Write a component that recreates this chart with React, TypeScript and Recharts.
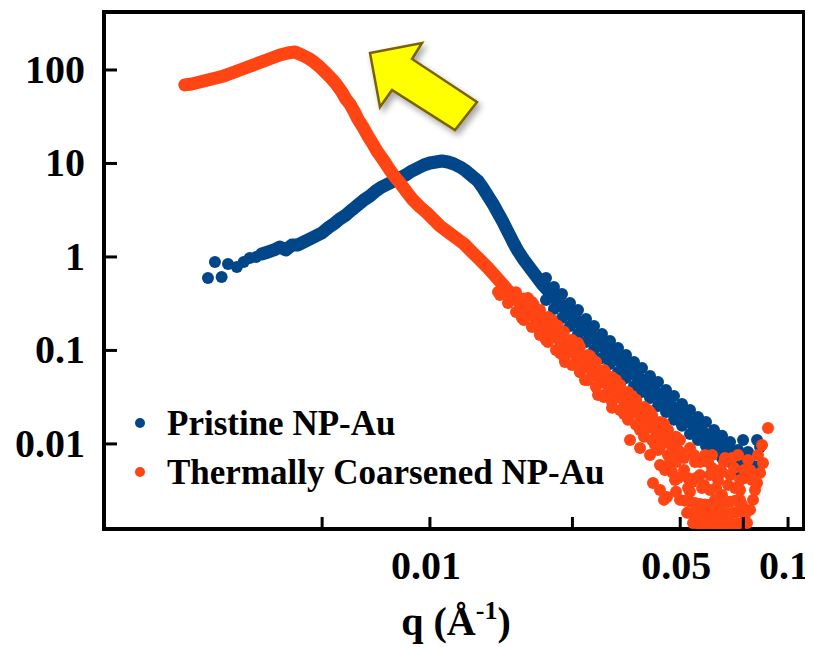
import React from "react";
import { ScatterChart, Scatter, XAxis, YAxis, ReferenceArea } from "recharts";

// q in 1/Å, intensity in a.u.

// Pristine NP-Au: first sparse points at low q
const pristineLowQ = [0.0024, 0.00251, 0.00262, 0.00273, 0.00289, 0.00302, 0.00314, 0.00327];
const pristineLowI = [0.596, 0.884, 0.611, 0.841, 0.782, 0.884, 0.976, 1.0];

// Pristine NP-Au: main curve
const pristineQ = [
  0.00339, 0.00353, 0.00367, 0.00381, 0.00396, 0.00412, 0.00428, 0.00445, 0.00462, 0.0048,
  0.00499, 0.00519, 0.00539, 0.0056, 0.00583, 0.00605, 0.00629, 0.00654, 0.0068, 0.00706,
  0.00734, 0.00763, 0.00793, 0.00824, 0.00857, 0.00891, 0.00926, 0.00962, 0.01, 0.01039,
  0.0108, 0.01123, 0.01167, 0.01213, 0.01261, 0.0131, 0.01362, 0.01406, 0.01452, 0.01476,
  0.015, 0.01524, 0.01549, 0.01574, 0.01599, 0.01625, 0.01652, 0.01679, 0.01706, 0.01733,
  0.01762, 0.0183, 0.01902, 0.01977, 0.02055, 0.02164, 0.02278, 0.02399, 0.02525, 0.02658,
  0.02799, 0.02947, 0.03102, 0.03266, 0.03439, 0.0362, 0.03811, 0.04012, 0.04224, 0.04447,
  0.04682, 0.04928, 0.05189, 0.05463, 0.05751, 0.06055, 0.06375, 0.06711, 0.07066, 0.07439,
  0.07832, 0.08245,
];
const pristineI = [
  1.077, 1.131, 1.188, 1.279, 1.188, 1.344, 1.344, 1.447, 1.557, 1.677,
  1.806, 2.043, 2.254, 2.549, 2.814, 3.182, 3.599, 4.07, 4.491, 5.08,
  5.607, 6.036, 6.5, 6.997, 7.535, 8.315, 8.953, 9.638, 10.12, 10.37,
  10.63, 10.37, 9.879, 9.176, 8.315, 7.352, 6.5, 5.47, 4.491, 4.07,
  3.689, 3.302, 2.956, 2.646, 2.368, 2.094, 1.851, 1.637, 1.447, 1.295,
  1.159, 0.929, 0.763, 0.626, 0.514, 0.412, 0.33, 0.271, 0.2226, 0.183,
  0.15, 0.123, 0.1037, 0.0873, 0.0735, 0.0619, 0.0521, 0.0438, 0.0369, 0.031,
  0.0261, 0.022, 0.0185, 0.016, 0.0134, 0.0116, 0.01, 0.00863, 0.00744, 0.00642,
  0.00582, 0.00554,
];

// Pristine NP-Au: scatter of the noisy high-q band
const pristineNoiseQ = [
  0.02338, 0.02461, 0.02591, 0.02728, 0.02872, 0.03023, 0.03183, 0.03351, 0.03528, 0.03714,
  0.0391, 0.04117, 0.04334, 0.04563, 0.04803, 0.05057, 0.05324, 0.05605, 0.05901, 0.06213,
  0.06541, 0.06887, 0.0725, 0.07488, 0.08192, 0.08353, 0.07732, 0.08035, 0.07344,
  0.02109, 0.02109, 0.0222, 0.0222, 0.02338, 0.02461, 0.02591, 0.02728, 0.02872, 0.03023,
  0.03183, 0.03351, 0.03528, 0.03714, 0.0391, 0.04117, 0.04334, 0.04563, 0.04803, 0.05057,
  0.05324, 0.05605, 0.05901, 0.06213, 0.06541, 0.06887, 0.0725,
];
const pristineNoiseI = [
  0.402, 0.183, 0.271, 0.123, 0.183, 0.0832, 0.126, 0.0589, 0.0895, 0.0417,
  0.065, 0.031, 0.046, 0.022, 0.0326, 0.0156, 0.0231, 0.011, 0.0172, 0.00863,
  0.0122, 0.00642, 0.00863, 0.011, 0.011, 0.00929, 0.00821, 0.00527, 0.00527,
  0.596, 0.347, 0.478, 0.278, 0.2226, 0.322, 0.15, 0.2173, 0.1012, 0.15,
  0.0717, 0.106, 0.0508, 0.0754, 0.036, 0.0534, 0.0255, 0.0378, 0.0181, 0.0268,
  0.0128, 0.0194, 0.00952, 0.0141, 0.00708, 0.0105, 0.00527,
];

// Thermally Coarsened NP-Au: main curve
const coarsenedQ = [
  0.002068, 0.002163, 0.002278, 0.002398, 0.002525, 0.002658, 0.002798, 0.002946, 0.003101, 0.003266,
  0.003438, 0.00362, 0.003811, 0.004012, 0.004196, 0.00439, 0.004563, 0.004742, 0.004929, 0.005122,
  0.005324, 0.005497, 0.005677, 0.005825, 0.005977, 0.006133, 0.006292, 0.006498, 0.006709, 0.006928,
  0.007112, 0.007342, 0.007534, 0.007729, 0.007984, 0.008243, 0.008567, 0.008964, 0.009377, 0.009808,
  0.01026, 0.01066, 0.01123, 0.01182, 0.01245, 0.0131, 0.0138, 0.01452, 0.01529, 0.0161,
  0.01694, 0.01784, 0.01878, 0.01977, 0.02082, 0.02192, 0.02307, 0.02429, 0.02557, 0.02693,
  0.02835, 0.02985, 0.03143, 0.03308, 0.03483, 0.03666, 0.0386, 0.04064, 0.04278, 0.04504,
  0.04742, 0.04992,
];
const coarsenedI = [
  69.2, 70.8, 74.4, 78.2, 82.1, 86.3, 92.9, 100, 107.6, 115.9,
  124.8, 134.4, 144.7, 152, 156, 144.7, 134.4, 121.8, 107.6, 92.9,
  80.1, 69.2, 58.2, 49.0, 43.3, 36.4, 29.9, 24.6, 19.7, 16.2,
  13.6, 11.45, 9.88, 8.52, 7.17, 6.19, 5.08, 4.07, 3.43, 2.96,
  2.49, 2.15, 1.85, 1.6, 1.38, 1.131, 0.929, 0.763, 0.611, 0.49,
  0.392, 0.322, 0.271, 0.2226, 0.187, 0.154, 0.1295, 0.106, 0.0895, 0.0735,
  0.0619, 0.0508, 0.0428, 0.0351, 0.0296, 0.0243, 0.0204, 0.0168, 0.0141, 0.0116,
  0.00976, 0.00801,
];

// Thermally Coarsened NP-Au: noisy band and low-intensity tail
const coarsenedNoiseQ = [
  0.01549, 0.01807, 0.01952, 0.02109, 0.02278, 0.02383, 0.02493, 0.0271, 0.02799,
  0.02947, 0.03082, 0.03224, 0.03394, 0.03574, 0.03762, 0.03961, 0.04117, 0.04334, 0.04447,
  0.04682, 0.04866, 0.05123, 0.05324, 0.04197, 0.04592, 0.05498, 0.05677, 0.05863, 0.06134,
  0.06375, 0.06626, 0.06887, 0.07112, 0.04992, 0.05324, 0.05677, 0.06055, 0.06458, 0.06887,
  0.07344, 0.05223, 0.05569, 0.05938, 0.06334, 0.06754, 0.07203, 0.05428, 0.05788, 0.06173,
  0.06584, 0.07021, 0.07488, 0.07682, 0.07832, 0.07984, 0.08087, 0.08192, 0.08353, 0.08514,
  0.08792, 0.07344, 0.07584, 0.07832, 0.0439, 0.04834, 0.05256, 0.06055, 0.06541, 0.0386,
  0.0362,
  0.01878, 0.02029, 0.02192, 0.02307, 0.02591, 0.02624, 0.02835, 0.03062, 0.03308, 0.03483,
  0.03666, 0.0386, 0.04064, 0.04251, 0.04504, 0.04742, 0.04992, 0.05256, 0.05463, 0.05751,
  0.04534, 0.04928, 0.05393, 0.05826, 0.06295, 0.06799, 0.07344, 0.06055, 0.06541, 0.07066,
  0.05677, 0.06134, 0.06668, 0.0725, 0.07732, 0.07935, 0.07439, 0.07584,
  0.05157, 0.05498, 0.05863, 0.06253, 0.06668, 0.07112, 0.05393, 0.05751, 0.06134, 0.06541,
  0.06977, 0.05605, 0.05977, 0.06375, 0.06799, 0.0725,
  // upper edge of the band
  0.01739, 0.0183, 0.01927, 0.02029, 0.02136, 0.02249, 0.02368, 0.02493,
  0.02624, 0.02763, 0.02909, 0.03062, 0.03224, 0.03394, 0.03574, 0.03762, 0.03961, 0.0417,
  0.0439, 0.04622, 0.04866,
  // lower edge of the band
  0.01569, 0.01652, 0.01739, 0.0183, 0.01927, 0.02029, 0.02136, 0.02249, 0.02368, 0.02493,
  0.02624, 0.02763, 0.02909, 0.03062, 0.03224, 0.03394, 0.03574, 0.03762, 0.03961, 0.0417,
  0.0439, 0.04622, 0.04866,
  // fill of the tail cluster
  0.04117, 0.0439, 0.04742, 0.05123, 0.05534, 0.05977, 0.06458, 0.06977, 0.07536, 0.04504,
  0.04866, 0.05324, 0.06253, 0.08087, 0.08245, 0.08461,
];
const coarsenedNoiseI = [
  0.423, 0.2226, 0.307, 0.1295, 0.183, 0.0754, 0.1295, 0.0483, 0.0873,
  0.0334, 0.0589, 0.0243, 0.0428, 0.0181, 0.0296, 0.0119, 0.022, 0.00863, 0.016,
  0.00642, 0.0116, 0.00527, 0.00906, 0.00383, 0.00271, 0.00642, 0.00466, 0.00763, 0.00554,
  0.00412, 0.00642, 0.00466, 0.00338, 0.00252, 0.0024, 0.00228, 0.00223, 0.00228, 0.0024,
  0.00252, 0.00183, 0.00178, 0.00174, 0.00174, 0.00178, 0.00187, 0.00143, 0.00139, 0.00136,
  0.00139, 0.00139, 0.00143, 0.00143, 0.00197, 0.00252, 0.00322, 0.00383, 0.0049, 0.00626,
  0.0148, 0.00322, 0.00433, 0.00527, 0.00596, 0.00412, 0.00338, 0.00322, 0.00285, 0.00906,
  0.011,
  0.364, 0.15, 0.212, 0.094, 0.1203, 0.0589, 0.0791, 0.0318, 0.0483, 0.0209,
  0.0326, 0.0141, 0.0231, 0.00976, 0.0164, 0.00708, 0.011, 0.00433, 0.00763, 0.00338,
  0.00527, 0.00433, 0.00392, 0.00364, 0.00338, 0.00364, 0.00412, 0.00466, 0.00502, 0.00554,
  0.00642, 0.00763, 0.00708, 0.00763, 0.00674, 0.00412, 0.00223, 0.00174,
  0.00246, 0.00234, 0.00225, 0.00225, 0.00234, 0.00246, 0.0018, 0.00176, 0.00174, 0.00176,
  0.00182, 0.00141, 0.00137, 0.00137, 0.00139, 0.00141,
  0.42, 0.36, 0.33, 0.271, 0.228, 0.187, 0.158, 0.1295,
  0.109, 0.0895, 0.0754, 0.0619, 0.0521, 0.0428, 0.036, 0.0296, 0.0249, 0.0204,
  0.0172, 0.0141, 0.0119,
  0.392, 0.322, 0.258, 0.212, 0.178, 0.1465, 0.123, 0.1012, 0.0852, 0.07,
  0.0589, 0.0483, 0.0407, 0.0334, 0.0281, 0.0231, 0.0194, 0.016, 0.0134, 0.011,
  0.00929, 0.00763, 0.00642,
  0.00763, 0.00322, 0.00502, 0.00708, 0.00433, 0.00642, 0.00527, 0.00708, 0.00527, 0.00252,
  0.00307, 0.00307, 0.00252, 0.00466, 0.00763, 0.00976,
];

const seriesNames = ["Pristine NP-Au", "Thermally Coarsened NP-Au"];
const seriesColors = ["#02468A", "#FF4513"];

const xTicks = [0.005, 0.01, 0.025, 0.05, 0.075, 0.1];
const xTickLabels: Record<string, string> = { "0.01": "0.01", "0.05": "0.05", "0.1": "0.1" };
const yTicks = [0.01, 0.1, 1, 10, 100];
const yTickLabels = ["0.01", "0.1", "1", "10", "100"];

const X_DOMAIN: [number, number] = [0.00123, 0.1108];
const Y_DOMAIN: [number, number] = [0.00123, 417];

const W = 805;
const H = 639;
const FONT = "'Liberation Serif', 'Times New Roman', serif";
const DOT_R = 6;

const zip = (qs: number[], is: number[]) => qs.map((q, k) => ({ q, I: is[k] }));

function XTick({ x, y, payload }: any) {
  const label = xTickLabels[String(payload.value)];
  return (
    <g>
      <line x1={x} x2={x} y1={y} y2={y - 12} stroke="#000" strokeWidth={3} />
      {label && (
        <text x={x - 4} y={y + 50} textAnchor="middle" fontFamily={FONT} fontWeight="bold" fontSize={40} fill="#000">
          {label}
        </text>
      )}
    </g>
  );
}

function YTick({ x, y, payload }: any) {
  const label = yTickLabels[yTicks.indexOf(payload.value)];
  return (
    <g>
      <line x1={x} x2={x + 13} y1={y} y2={y} stroke="#000" strokeWidth={3} />
      <text x={x - 19} y={y + 13} textAnchor="end" fontFamily={FONT} fontWeight="bold" fontSize={40} fill="#000">
        {label}
      </text>
    </g>
  );
}

const dot = (color: string) => (p: any) => <circle cx={p.cx} cy={p.cy} r={DOT_R} fill={color} />;
const band = (color: string) => ({
  stroke: color,
  strokeWidth: 13,
  strokeLinecap: "round",
  strokeLinejoin: "round",
});

export default function App() {
  const [blue, orange] = seriesColors;
  return (
    <div style={{ position: "relative", width: W, height: H }}>
      <ScatterChart width={W} height={H} margin={{ top: 4, right: 9, bottom: 0, left: 0 }}>
        <XAxis
          type="number"
          dataKey="q"
          scale="log"
          domain={X_DOMAIN}
          allowDataOverflow
          ticks={xTicks}
          interval={0}
          tick={<XTick />}
          tickLine={false}
          axisLine={false}
          tickSize={0}
          tickMargin={0}
          height={118}
        />
        <YAxis
          type="number"
          dataKey="I"
          scale="log"
          domain={Y_DOMAIN}
          allowDataOverflow
          ticks={yTicks}
          interval={0}
          tick={<YTick />}
          tickLine={false}
          axisLine={false}
          tickSize={0}
          tickMargin={0}
          width={96}
        />
        <Scatter name={seriesNames[0]} data={zip(pristineLowQ, pristineLowI)} fill={blue} shape={dot(blue)} isAnimationActive={false} />
        <Scatter name={seriesNames[0]} data={zip(pristineQ, pristineI)} fill={blue} shape={dot(blue)} line={band(blue)} isAnimationActive={false} />
        <Scatter name={seriesNames[0]} data={zip(pristineNoiseQ, pristineNoiseI)} fill={blue} shape={dot(blue)} isAnimationActive={false} />
        <Scatter name={seriesNames[1]} data={zip(coarsenedQ, coarsenedI)} fill={orange} shape={dot(orange)} line={band(orange)} isAnimationActive={false} />
        <Scatter name={seriesNames[1]} data={zip(coarsenedNoiseQ, coarsenedNoiseI)} fill={orange} shape={dot(orange)} isAnimationActive={false} />
        <ReferenceArea
          x1={X_DOMAIN[0]}
          x2={X_DOMAIN[1]}
          y1={Y_DOMAIN[0]}
          y2={Y_DOMAIN[1]}
          fill="none"
          fillOpacity={0}
          stroke="#000"
          strokeWidth={4}
          isFront
        />
      </ScatterChart>
      <svg width={W} height={H} style={{ position: "absolute", left: 0, top: 0, pointerEvents: "none" }}>
        <defs>
          <filter id="arrowShadow" x="-20%" y="-20%" width="150%" height="150%">
            <feDropShadow dx="3" dy="4" stdDeviation="3" floodColor="#000" floodOpacity="0.35" />
          </filter>
        </defs>
        <polygon
          points="362,45 414,35 404,51 469,94 447,122 384,82 372,99"
          fill="#FFFF00"
          stroke="#7A6200"
          strokeWidth={2.5}
          filter="url(#arrowShadow)"
        />
        {seriesNames.map((name, k) => (
          <g key={name}>
            <circle cx={132} cy={415 + k * 49} r={5} fill={seriesColors[k]} />
            <text x={159} y={427 + k * 49} fontFamily={FONT} fontWeight="bold" fontSize={35} fill="#000">
              {name}
            </text>
          </g>
        ))}
        <text x={448} y={627} textAnchor="middle" fontFamily={FONT} fontWeight="bold" fontSize={40} fill="#000">
          <tspan>q (Å</tspan>
          <tspan dy={-16} fontSize={26}>-1</tspan>
          <tspan dy={16}>)</tspan>
        </text>
      </svg>
    </div>
  );
}
